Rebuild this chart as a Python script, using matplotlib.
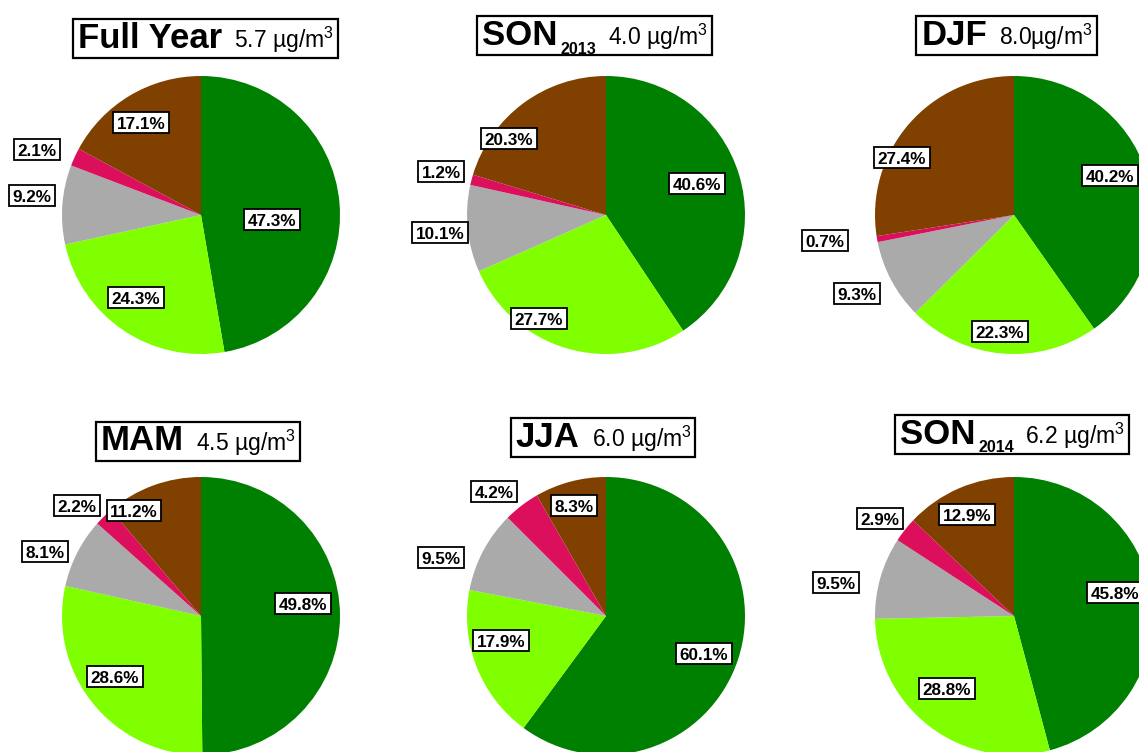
import matplotlib
matplotlib.use("Agg")
import matplotlib.pyplot as plt
from matplotlib.patches import Rectangle

plt.rcParams['font.family'] = ['Liberation Sans', 'DejaVu Sans']
plt.rcParams['mathtext.fontset'] = 'custom'
plt.rcParams['mathtext.bf'] = 'Liberation Sans:bold'
plt.rcParams['mathtext.rm'] = 'Liberation Sans'
plt.rcParams['mathtext.it'] = 'Liberation Sans:italic'

# ---- data -------------------------------------------------------------
periods = ["Full Year", "SON", "DJF", "MAM", "JJA", "SON"]
period_years = ["", "2013", "", "", "", "2014"]
mean_conc = ["5.7 µg/m$^3$", "4.0 µg/m$^3$", "8.0µg/m$^3$",
             "4.5 µg/m$^3$", "6.0 µg/m$^3$", "6.2 µg/m$^3$"]

share_full_year = [47.3, 24.3, 9.2, 2.1, 17.1]
share_son2013 = [40.6, 27.7, 10.1, 1.2, 20.3]
share_djf = [40.2, 22.3, 9.3, 0.7, 27.4]
share_mam = [49.8, 28.6, 8.1, 2.2, 11.2]
share_jja = [60.1, 17.9, 9.5, 4.2, 8.3]
share_son2014 = [45.8, 28.8, 9.5, 2.9, 12.9]
shares = [share_full_year, share_son2013, share_djf, share_mam, share_jja, share_son2014]

slice_colors = ["#008000", "#80FF00", "#AAAAAA", "#DC0F5C", "#804000"]

# ---- layout (pixel units, y measured from top) ------------------------
W, H = 1139, 752
RADIUS = 139
pie_centers = [(201, 215), (606, 215), (1014, 215),
               (201, 616), (606, 616), (1014, 616)]
title_centers = [(206, 38.5), (595, 35.5), (1007, 35.5),
                 (198.5, 441), (603.5, 437.5), (1012.5, 434.5)]
# label offsets from pie centre (dx right, dy down)
label_offsets = [
    [(71, 5), (-65, 83), (-169, -19), (-164, -65), (-60, -92)],
    [(91, -31), (-67, 104), (-166, 18), (-165, -43), (-97, -76)],
    [(96, -39), (-14, 117), (-157, 79), (-189, 26), (-112, -57)],
    [(102, -12), (-86, 61), (-156, -64), (-124, -110), (-67, -105)],
    [(98, 38), (-105, 25), (-165, -58), (-112, -124), (-32, -110)],
    [(101, -23), (-67, 73), (-178, -33), (-134, -97), (-47, -101)],
]

fig = plt.figure(figsize=(W / 100, H / 100), dpi=100)
ax = fig.add_axes([0, 0, 1, 1])
ax.set_xlim(0, W)
ax.set_ylim(0, H)
ax.axis("off")
renderer = fig.canvas.get_renderer()


def data_extent(artist):
    bb = artist.get_window_extent(renderer)
    return ax.transData.inverted().transform_bbox(bb)


def boxed_label(x, y, s):
    """Percentage label in a thin white frame (21 px tall)."""
    base = y - 6
    t = ax.text(x, base, s, ha="center", va="baseline", fontsize=12.3,
                fontweight="bold", color="black", zorder=4)
    bb = data_extent(t)
    ax.add_patch(Rectangle((bb.x0 - 3.5, base - 3.5), bb.width + 7, 21,
                           fc="white", ec="black", lw=1.3, zorder=3))


def boxed_title(cx, cy, name, year, conc):
    """Bold period name, optional subscript year and concentration in a frame."""
    parts = [(name, dict(fontsize=25, fontweight="bold"), 0)]
    if year:
        parts.append((year, dict(fontsize=11.5, fontweight="bold"), -8.5))
    parts.append((conc, dict(fontsize=16.5), 0))
    gaps = [3, 11] if year else [12]

    texts, boxes = [], []
    x = 0.0
    for k, (s, props, dy) in enumerate(parts):
        t = ax.text(x, dy, s, ha="left", va="baseline", color="black", **props)
        bb = data_extent(t)
        texts.append((t, dy))
        boxes.append(bb)
        if k < len(gaps):
            x = bb.x1 + gaps[k]
    x0, x1 = boxes[0].x0, boxes[-1].x1
    y0, y1 = boxes[0].y0 - 3, boxes[0].y1 + 3
    sx = cx - (x0 + x1) / 2
    sy = cy - (y0 + y1) / 2
    for t, dy in texts:
        px, py = t.get_position()
        t.set_position((px + sx, py + sy))
    ax.add_patch(Rectangle((x0 + sx - 5, y0 + sy), (x1 - x0) + 9, y1 - y0,
                           fc="white", ec="black", lw=1.6, zorder=1.5))
    for t, _ in texts:
        t.set_zorder(2)


for i, vals in enumerate(shares):
    cx, cy = pie_centers[i]
    cy = H - cy
    ax.pie(vals, colors=slice_colors, startangle=90, counterclock=False,
           center=(cx, cy), radius=RADIUS, frame=True,
           wedgeprops=dict(linewidth=0))
    for v, (dx, dy) in zip(vals, label_offsets[i]):
        boxed_label(cx + dx, cy - dy, f"{v:.1f}%")

    tx, ty = title_centers[i]
    boxed_title(tx, H - ty, periods[i], period_years[i], mean_conc[i])

ax.set_xlim(0, W)
ax.set_ylim(0, H)
ax.set_aspect("equal")
ax.axis("off")

fig.savefig("out.png", dpi=100, facecolor="white")
